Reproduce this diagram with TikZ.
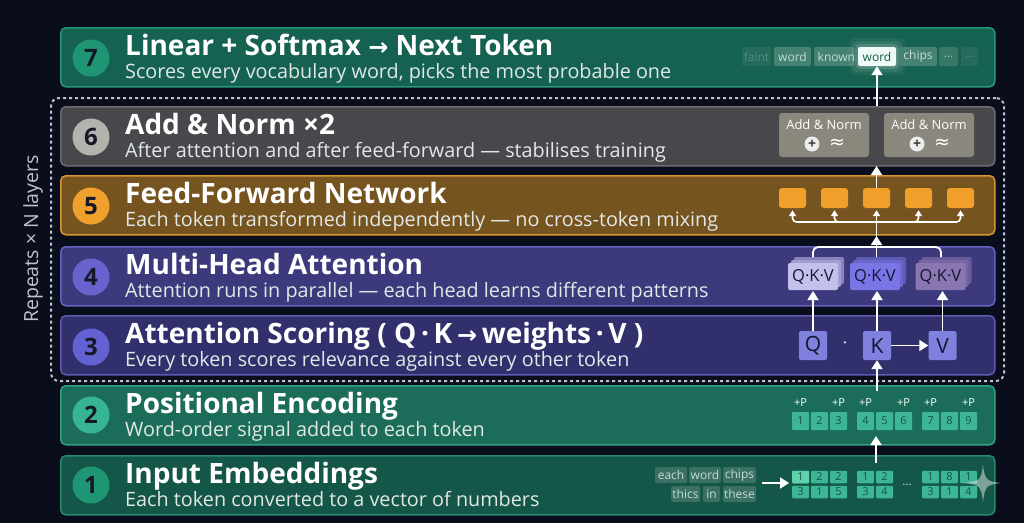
\documentclass[tikz,border=0pt]{standalone}
\usepackage{fontspec}
\setmainfont{Open Sans}
\newfontfamily\dejavu{DejaVu Sans}
\usetikzlibrary{arrows.meta,calc}
\definecolor{bg}{RGB}{10,14,28}
\definecolor{bsevF}{RGB}{22,98,82}\definecolor{bsevD}{RGB}{40,150,120}
\definecolor{bsixF}{RGB}{72,72,76}\definecolor{bsixD}{RGB}{108,108,112}
\definecolor{bfivF}{RGB}{118,84,32}\definecolor{bfivD}{RGB}{214,150,52}
\definecolor{bfouF}{RGB}{60,58,124}\definecolor{bfouD}{RGB}{100,98,192}
\definecolor{bthrF}{RGB}{50,48,108}\definecolor{bthrD}{RGB}{92,90,180}
\definecolor{btwoF}{RGB}{28,108,90}\definecolor{btwoD}{RGB}{52,160,130}
\definecolor{boneF}{RGB}{20,86,72}\definecolor{boneD}{RGB}{38,138,112}
\definecolor{csev}{RGB}{30,150,115}
\definecolor{csix}{RGB}{180,178,172}
\definecolor{cfiv}{RGB}{240,160,45}
\definecolor{cfou}{RGB}{105,100,205}
\definecolor{cthr}{RGB}{100,98,210}
\definecolor{ctwo}{RGB}{55,180,145}
\definecolor{cone}{RGB}{30,150,115}
\definecolor{numtxt}{RGB}{22,24,40}
\definecolor{subtxt}{RGB}{225,232,230}
\definecolor{chipF}{RGB}{70,130,115}
\definecolor{chipT}{RGB}{195,220,212}
\definecolor{hlT}{RGB}{20,90,75}
\definecolor{anF}{RGB}{138,135,125}
\definecolor{ffnF}{RGB}{240,160,42}
\definecolor{gone}{RGB}{196,192,236}
\definecolor{gtwo}{RGB}{122,118,230}
\definecolor{gthr}{RGB}{138,118,176}
\definecolor{qkvF}{RGB}{128,128,222}
\definecolor{qkvT}{RGB}{20,22,50}
\definecolor{cellF}{RGB}{60,182,148}
\definecolor{cellL}{RGB}{95,208,172}
\definecolor{cellT}{RGB}{25,85,70}
\definecolor{wchipF}{RGB}{60,112,100}
\definecolor{dashC}{RGB}{190,195,210}
\newcommand{\tarrow}{{\dejavu\bfseries\fontsize{24}{24}\selectfont →}}
\begin{document}
\begin{tikzpicture}[x=1pt,y=-1pt,
  band/.style={rounded corners=5pt, line width=1.5pt, anchor=north west, minimum width=934pt, minimum height=59pt, inner sep=0pt},
  numc/.style={circle, minimum size=37pt, inner sep=0pt, font=\fontsize{24}{24}\selectfont\bfseries, text=numtxt},
  ttl/.style={anchor=base west, inner sep=0pt, font=\fontsize{28}{30}\selectfont\bfseries, text=white},
  sbt/.style={anchor=base west, inner sep=0pt, font=\fontsize{19.8}{22}\selectfont, text=subtxt},
  chip/.style={rounded corners=2pt, fill=chipF, text=chipT, inner sep=0pt, minimum height=19pt, font=\fontsize{12}{12}\selectfont},
  wchip/.style={rounded corners=2pt, fill=wchipF, text=chipT, inner sep=0pt, minimum height=16pt, font=\fontsize{12}{12}\selectfont},
  anbox/.style={rounded corners=3pt, fill=anF, minimum width=90pt, minimum height=44pt, inner sep=0pt},
  ffn/.style={rounded corners=3pt, fill=ffnF, minimum width=27pt, minimum height=20pt, inner sep=0pt},
  card/.style={rounded corners=2pt, minimum width=50pt, minimum height=27pt, inner sep=0pt, text=qkvT, font=\fontsize{16.5}{16.5}\selectfont},
  qkv/.style={rounded corners=2pt, fill=qkvF, minimum width=28pt, minimum height=29pt, inner sep=0pt, text=qkvT, font=\fontsize{21}{21}\selectfont},
  cell/.style={rounded corners=1pt, fill=cellF, minimum width=17pt, minimum height=18pt, inner sep=0pt, text=cellT, font=\fontsize{11}{11}\selectfont},
  ecell/.style={cell, minimum height=12.5pt},
  plab/.style={inner sep=0pt, text=white, font=\fontsize{11}{11}\selectfont},
  arr/.style={draw=white, line width=1.8pt, -{Triangle[length=9pt,width=11pt]}},
  lin/.style={draw=white, line width=1.8pt},
]
\useasboundingbox (0,0) rectangle (1024,523);
\fill[bg] (0,0) rectangle (1024,523);

% repeat box
\node[draw=dashC, line width=2pt, dash pattern=on 3pt off 3pt, rounded corners=8pt, anchor=north west, minimum width=953pt, minimum height=283pt, inner sep=0pt] (rep) at (50,97) {};
\node[rotate=90, inner sep=0pt, text=dashC, font=\fontsize{19.5}{19.5}\selectfont] (replab) at (33,239) {Repeats × N layers};

% bands
\node[band, fill=bsevF, draw=bsevD] (b7) at (60,27) {};
\node[band, fill=bsixF, draw=bsixD] (b6) at (60,106) {};
\node[band, fill=bfivF, draw=bfivD] (b5) at (60,175) {};
\node[band, fill=bfouF, draw=bfouD] (b4) at (60,246) {};
\node[band, fill=bthrF, draw=bthrD] (b3) at (60,315) {};
\node[band, fill=btwoF, draw=btwoD] (b2) at (60,385) {};
\node[band, fill=boneF, draw=boneD] (b1) at (60,455) {};

% circles
\node[numc, fill=csev] (n7) at (91,58) {7};
\node[numc, fill=csix] (n6) at (91,137) {6};
\node[numc, fill=cfiv] (n5) at (91,206) {5};
\node[numc, fill=cfou] (n4) at (91,277) {4};
\node[numc, fill=cthr] (n3) at (91,347) {3};
\node[numc, fill=ctwo] (n2) at (91,415) {2};
\node[numc, fill=cone] (n1) at (91,485) {1};

% titles
\node[ttl] (t7) at (125,55) {Linear + Softmax \tarrow{} Next Token};
\node[sbt] (s7) at (125,78) {Scores every vocabulary word, picks the most probable one};
\node[ttl] (t6) at (125,134) {Add \& Norm ×2};
\node[sbt] (s6) at (125,157) {After attention and after feed-forward — stabilises training};
\node[ttl] (t5) at (125,203) {Feed-Forward Network};
\node[sbt] (s5) at (125,226) {Each token transformed independently — no cross-token mixing};
\node[ttl] (t4) at (125,274) {Multi-Head Attention};
\node[sbt] (s4) at (125,297) {Attention runs in parallel — each head learns different patterns};
\node[ttl] (t3) at (125,343) {Attention Scoring ( Q\,·\,K\,\tarrow\,weights\,·\,V )};
\node[sbt] (s3) at (125,366) {Every token scores relevance against every other token};
\node[ttl] (t2) at (125,413) {Positional Encoding};
\node[sbt] (s2) at (125,436) {Word-order signal added to each token};
\node[ttl] (t1) at (125,483) {Input Embeddings};
\node[sbt] (s1) at (125,506) {Each token converted to a vector of numbers};

% band 7 chips
\node[chip, minimum width=29pt, opacity=0.3] (k1) at (756.5,56.5) {faint};
\node[chip, minimum width=37pt] (k2) at (792.5,56.5) {word};
\node[chip, minimum width=40pt] (k3) at (834,56.5) {};
\begin{scope}
\clip[rounded corners=2pt] (814,47) rectangle (853,66);
\node[inner sep=0pt, text=chipT, font=\fontsize{12}{12}\selectfont, anchor=west] (k3t) at (817.5,56.5) {known};
\end{scope}
\foreach \g/\o in {9/0.05,6/0.08,3/0.14}{
  \fill[white, opacity=\o, rounded corners=5pt] (858-\g,47-\g) rectangle (896+\g,66+\g);
}
\node[chip, minimum width=38pt, fill=white!92!cellF, text=hlT] (k4) at (877,56.5) {word};
\node[chip, minimum width=38pt] (k5) at (918,56.5) {chips};
\node[chip, minimum width=19pt, opacity=0.7] (k6) at (948.5,56.5) {…};
\node[chip, minimum width=17pt, opacity=0.3] (k7) at (969.5,56.5) {…};

% band 6 add & norm
\node[anbox] (a1) at (824,135) {};
\node[anbox] (a2) at (929,135) {};
\foreach \c/\n in {824/p,929/q}{
  \node[inner sep=0pt, text=white, font=\fontsize{13}{13}\selectfont] (an\n) at (\c,125) {Add \& Norm};
  \node[circle, fill=white!85!anF, minimum size=15pt, inner sep=0pt, text=anF!40!black, font=\fontsize{14}{14}\selectfont\bfseries] (pl\n) at (\c-12,144) {+};
  \node[inner sep=0pt, text=white, font=\dejavu\fontsize{19}{19}\selectfont] (ap\n) at (\c+13,144) {≈};
}

% band 5 ffn
\node[ffn] (f1) at (792.5,198) {};
\node[ffn] (f2) at (834.5,198) {};
\node[ffn] (f3) at (876.5,198) {};
\node[ffn] (f4) at (918.5,198) {};
\node[ffn] (f5) at (960.5,198) {};
\coordinate (fin) at (876.5,236);
\draw[lin] (fin) -- (876.5,222);
\foreach \f in {f1,f2,f3,f4,f5}{
  \draw[arr, -{Triangle[length=6pt,width=7pt]}, line width=1.6pt, rounded corners=4pt] (876.5,222) -| ($(\f.south)+(0,2)$);
}

% band 4 cards
\foreach \c/\col/\n in {813/gone/c1,875/gtwo/c2,940.5/gthr/c3}{
  \node[card, fill=\col!55!bfouF] (\n b2) at (\c+6,270.5) {};
  \node[card, fill=\col!75!bfouF] (\n b1) at (\c+3,273.5) {};
}
\node[card, fill=gone] (c1) at (813,276.5) {Q·K·V};
\node[card, fill=gtwo] (c2) at (875,276.5) {Q·K·V};
\node[card, fill=gthr] (c3) at (940.5,276.5) {Q·K·V};
\coordinate (cjoin) at (876.5,247);
\draw[lin, rounded corners=5pt] (813,257) |- (cjoin);
\draw[lin, rounded corners=5pt] (941,257) |- (cjoin);
\draw[arr] (876.5,257) -- (fin);

% band 3 Q K V
\node[qkv] (q) at (813,345.5) {Q};
\node[qkv] (k) at (877,345.5) {K};
\node[qkv] (v) at (942.5,345.5) {V};
\node[inner sep=0pt, text=white, font=\fontsize{16}{16}\selectfont] (dot) at (845,345) {·};
\draw[arr] (k.east) -- (v.west);
\draw[arr] (q.north) -- (813,291);
\draw[arr] (877,331) -- (877,291);
\draw[arr] (v.north) -- (942.5,291);

% band 2 cells
\foreach \x/\n/\v in {800.5/p1/1,819.5/p2/2,838.5/p3/3,865.5/p4/4,884.5/p5/5,903.5/p6/6,930.5/p7/7,949.5/p8/8,968.5/p9/9}{
  \node[cell] (\n) at (\x,421) {\v};
}
\foreach \n in {p1,p3,p4,p6,p7,p9}{
  \node[plab] at ($(\n)+(0,-18)$) {+P};
}
\coordinate (ktail) at (877,391);
\draw[arr] (ktail) -- (k.south);

% band 1
\node[wchip, minimum width=32pt] (w1) at (671,475) {each};
\node[wchip, minimum width=32pt] (w2) at (705,475) {word};
\node[wchip, minimum width=33pt] (w3) at (739.5,475) {chips};
\node[wchip, minimum width=29pt] (w4) at (685.5,494) {thics};
\node[wchip, minimum width=17pt] (w5) at (711.5,494) {in};
\node[wchip, minimum width=33pt] (w6) at (739.5,494) {these};
\coordinate (wa) at (762,483);
\coordinate (wb) at (789,483);
\draw[arr] (wa) -- (wb);
\foreach \x/\n/\a/\b in {800.5/e1/1/3,819.5/e2/2/1,838.5/e3/2/5,865.5/e4/1/3,884.5/e5/2/4,930.5/e6/1/3,949.5/e7/8/1,968.5/e8/1/4}{
  \node[ecell] (\n t) at (\x,477) {\a};
  \node[ecell] (\n b) at (\x,492) {\b};
}
\node[ecell, fill=cellL] at (e1t) {1};
\node[inner sep=0pt, text=chipT, font=\fontsize{12}{12}\selectfont] (dots) at (907,485) {…};
\coordinate (etop) at (876,463);
\coordinate (ptop) at (876,436);
\draw[arr] (etop) -- (ptop);

% upper arrows
\draw[arr] (f3.north) -- (876.5,166);
\draw[arr] (877,106) -- (k4.south);

% sparkle
\fill[white, opacity=0.45] (983,465) .. controls (985,480) and (986,481) .. (1001,483) .. controls (986,485) and (985,486) .. (983,502) .. controls (981,486) and (980,485) .. (965,483) .. controls (980,481) and (981,480) .. (983,465) -- cycle;
\end{tikzpicture}
\end{document}
